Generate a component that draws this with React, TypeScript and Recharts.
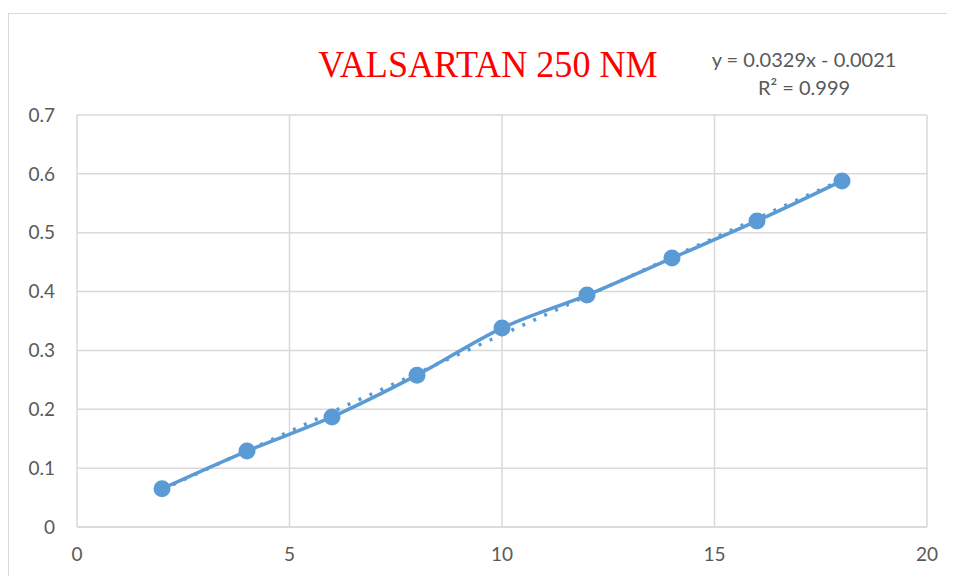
import React from "react";
import { ComposedChart, Line, XAxis, YAxis, CartesianGrid } from "recharts";

// absorbance vs concentration
const concentrations = [2, 4, 6, 8, 10, 12, 14, 16, 18];
const absorbance = [0.065, 0.129, 0.187, 0.258, 0.338, 0.394, 0.457, 0.52, 0.588];

// linear trendline ends, from y = 0.0329x - 0.0021
const trendX = [2, 18];
const trendY = [0.0637, 0.5901];

const xTicks = [0, 5, 10, 15, 20];
const yTicks = [0, 0.1, 0.2, 0.3, 0.4, 0.5, 0.6, 0.7];

const points = concentrations.map((x, i) => ({ x, y: absorbance[i] }));
const trend = trendX.map((x, i) => ({ x, t: trendY[i] }));

const BLUE = "#5b9bd5";
const tickStyle = { fill: "#595959", fontSize: 19, fontFamily: "Lato, sans-serif" };

export default function App() {
    return (
        <div
            style={{
                position: "relative",
                marginTop: 5,
                width: 947,
                height: 563,
                borderTop: "1px solid #d9d9d9",
                borderLeft: "1px solid #d9d9d9",
                boxSizing: "border-box",
            }}
        >
            <div
                style={{
                    position: "absolute",
                    left: 279,
                    top: 31,
                    width: 400,
                    textAlign: "center",
                    color: "#ff0000",
                    fontFamily: "'Liberation Serif', serif",
                    fontSize: 38,
                    lineHeight: 1,
                    whiteSpace: "nowrap",
                    transform: "scaleX(0.95)",
                }}
            >
                VALSARTAN 250 NM
            </div>
            <div
                style={{
                    position: "absolute",
                    left: 680,
                    top: 31,
                    width: 230,
                    textAlign: "center",
                    color: "#595959",
                    fontFamily: "Lato, sans-serif",
                    fontSize: 20,
                    lineHeight: "28px",
                }}
            >
                <div>y = 0.0329x - 0.0021</div>
                <div>R² = 0.999</div>
            </div>
            <ComposedChart
                width={945}
                height={562}
                margin={{ top: 101, right: 27, bottom: 9, left: 18 }}
                style={{ position: "absolute", left: 0, top: 0 }}
            >
                <CartesianGrid stroke="#d9d9d9" strokeWidth={1.5} />
                <XAxis
                    type="number"
                    dataKey="x"
                    domain={[0, 20]}
                    ticks={xTicks}
                    height={40}
                    tickSize={0}
                    tickMargin={21}
                    tickLine={false}
                    axisLine={{ stroke: "#d9d9d9", strokeWidth: 1.5 }}
                    tick={tickStyle}
                />
                <YAxis
                    type="number"
                    domain={[0, 0.7]}
                    ticks={yTicks}
                    width={50}
                    tickSize={0}
                    tickMargin={22}
                    tickLine={false}
                    axisLine={false}
                    tick={tickStyle}
                />
                <Line
                    data={trend}
                    dataKey="t"
                    type="linear"
                    stroke={BLUE}
                    strokeWidth={3.5}
                    strokeDasharray="3 9"
                    dot={false}
                    isAnimationActive={false}
                />
                <Line
                    data={points}
                    dataKey="y"
                    type="monotone"
                    stroke={BLUE}
                    strokeWidth={3.5}
                    dot={{ r: 8.5, fill: BLUE, stroke: BLUE, strokeWidth: 0 }}
                    isAnimationActive={false}
                />
            </ComposedChart>
        </div>
    );
}
